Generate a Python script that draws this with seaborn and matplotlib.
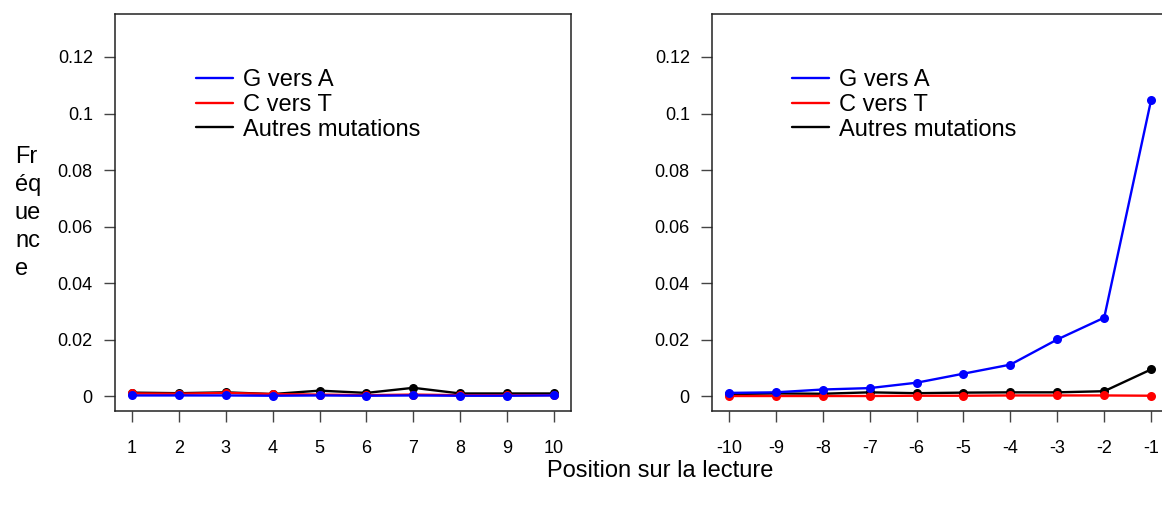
import numpy as np
import pandas as pd
import matplotlib
matplotlib.use("Agg")
import matplotlib.pyplot as plt
from matplotlib.lines import Line2D
import seaborn as sns

# Positions on the read (5' start and 3' end)
pos_debut = [1, 2, 3, 4, 5, 6, 7, 8, 9, 10]
pos_fin = [-10, -9, -8, -7, -6, -5, -4, -3, -2, -1]

# Frequencies, start of read
ga_debut = [0.0003, 0.0003, 0.0003, 0.0002, 0.0003, 0.0002, 0.0003, 0.0002, 0.0002, 0.0003]
ct_debut = [0.0010, 0.0009, 0.0012, 0.0008, 0.0006, 0.0004, 0.0006, 0.0004, 0.0004, 0.0004]
autres_debut = [0.0013, 0.0011, 0.0014, 0.0008, 0.0020, 0.0012, 0.0030, 0.0010, 0.0010, 0.0010]

# Frequencies, end of read
ga_fin = [0.0012, 0.0014, 0.0024, 0.0029, 0.0048, 0.0080, 0.0112, 0.0201, 0.0278, 0.1048]
ct_fin = [0.0001, 0.0001, 0.0001, 0.0001, 0.0002, 0.0002, 0.0003, 0.0003, 0.0003, 0.0002]
autres_fin = [0.0008, 0.0010, 0.0009, 0.0014, 0.0011, 0.0013, 0.0014, 0.0014, 0.0018, 0.0095]

labels = ["G vers A", "C vers T", "Autres mutations"]
colors = ["#0000FF", "#FF0000", "#000000"]
yticks = [0, 0.02, 0.04, 0.06, 0.08, 0.1, 0.12]
ytick_labels = ["0", "0.02", "0.04", "0.06", "0.08", "0.1", "0.12"]

sns.set_theme(style="ticks")
plt.rcParams["font.family"] = ["Liberation Sans", "DejaVu Sans"]
plt.rcParams["text.color"] = "black"
plt.rcParams["xtick.labelcolor"] = "black"
plt.rcParams["ytick.labelcolor"] = "black"

fig = plt.figure(figsize=(11.62, 5.07), dpi=100)
ax1 = fig.add_axes([115 / 1162, 96 / 507, 456 / 1162, 397 / 507])
ax2 = fig.add_axes([712 / 1162, 96 / 507, 456 / 1162, 397 / 507])


def panel(ax, x, series, xlim, leg_x):
    # black first, then red, then blue on top
    for vals, col in list(zip(series, colors))[::-1]:
        sns.lineplot(x=x, y=vals, ax=ax, color=col, marker="o", markersize=6.5,
                     markeredgewidth=0, linewidth=1.7, legend=False)
    ax.set_xlim(*xlim)
    ax.set_ylim(-0.0052, 0.1352)
    ax.set_xticks(x)
    ax.set_xticklabels([str(v) for v in x])
    ax.set_yticks(yticks)
    ax.set_yticklabels(ytick_labels)
    ax.tick_params(axis="both", labelsize=13, length=8, width=1, color="#444444")
    ax.tick_params(axis="x", pad=13)
    ax.tick_params(axis="y", pad=8)
    for sp in ax.spines.values():
        sp.set_visible(True)
        sp.set_linewidth(1.1)
        sp.set_color("#222222")
    ax.set_xlabel("")
    ax.set_ylabel("")
    handles = [Line2D([], [], color=c, linewidth=1.7) for c in colors]
    ax.legend(handles, labels, loc="upper left", bbox_to_anchor=(leg_x, 0.8615),
              frameon=False, fontsize=17, handlelength=1.57, handletextpad=0.42,
              labelspacing=0.12, borderpad=0, borderaxespad=0)


panel(ax1, pos_debut, [ga_debut, ct_debut, autres_debut], (0.64, 10.36), 0.178)
panel(ax2, pos_fin, [ga_fin, ct_fin, autres_fin], (-10.36, -0.64), 0.175)

fig.text(15 / 1162, 1 - 213 / 507, "Fr\néq\nue\nnc\ne", fontsize=17,
         ha="left", va="center", multialignment="left", linespacing=1.35)
fig.text(660 / 1162, 1 - 471 / 507, "Position sur la lecture", fontsize=17,
         ha="center", va="center")

fig.savefig("out.png", dpi=100)
